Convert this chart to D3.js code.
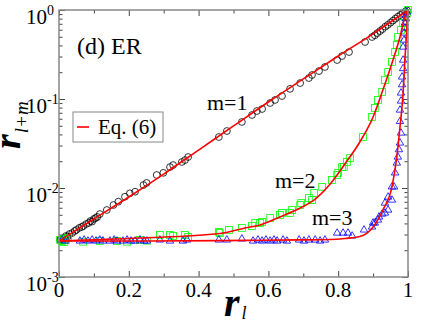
<!DOCTYPE html>
<html>
<head>
<meta charset="utf-8">
<script src="https://cdn.jsdelivr.net/npm/d3@7"></script>
<style>
  body { margin: 0; background: #fff; }
</style>
</head>
<body>
<div id="viz"></div>
<script>

const xMajor = [0, 0.2, 0.4, 0.6, 0.8, 1]
const xMajorLabels = ["0", "0.2", "0.4", "0.6", "0.8", "1"]
const xMinor = [0.1, 0.3, 0.5, 0.7, 0.9]
const yMajor = [0.001, 0.01, 0.1, 1]
const yMajorExp = ["-3", "-2", "-1", "0"]
const yMinor = [0.002, 0.003, 0.004, 0.005, 0.006, 0.007, 0.008, 0.009,
  0.02, 0.03, 0.04, 0.05, 0.06, 0.07, 0.08, 0.09,
  0.2, 0.3, 0.4, 0.5, 0.6, 0.7, 0.8, 0.9]

// Eq. (6) curves
const eqM1 = [[0, 0.00254], [0.1, 0.00449], [0.2, 0.00793], [0.3, 0.01435], [0.4, 0.0267],
  [0.5, 0.0498], [0.6, 0.0925], [0.7, 0.168], [0.8, 0.304], [0.9, 0.54], [1, 1]]
const eqM2 = [[0, 0.00254], [0.232, 0.00274], [0.461, 0.00308], [0.533, 0.00356], [0.576, 0.00384],
  [0.633, 0.00473], [0.691, 0.00596], [0.734, 0.00751], [0.777, 0.0111], [0.819, 0.0186],
  [0.862, 0.0329], [0.9, 0.0628], [0.928, 0.126], [0.957, 0.274], [0.977, 0.498], [0.991, 0.834], [1, 1]]
const eqM3 = [[0, 0.00254], [0.261, 0.00254], [0.547, 0.00258], [0.691, 0.00261], [0.777, 0.00264],
  [0.819, 0.00271], [0.862, 0.00285], [0.9, 0.00365], [0.928, 0.00566], [0.954, 0.0103],
  [0.968, 0.0223], [0.977, 0.0484], [0.986, 0.117], [0.991, 0.274], [0.997, 0.644], [1, 1]]

// simulation points
const simM1 = [[0.003, 0.00261], [0.006, 0.00265], [0.010, 0.00268], [0.015, 0.00274], [0.020, 0.00289],
  [0.025, 0.00285], [0.030, 0.00304], [0.038, 0.00312], [0.045, 0.00329], [0.050, 0.00338],
  [0.058, 0.00356], [0.065, 0.00365], [0.070, 0.00374], [0.078, 0.00394], [0.085, 0.00405],
  [0.090, 0.00426], [0.095, 0.00420], [0.100, 0.00449], [0.105, 0.00460], [0.110, 0.00473],
  [0.117, 0.00510], [0.137, 0.00566], [0.156, 0.00644], [0.170, 0.00702], [0.189, 0.00798],
  [0.203, 0.00871], [0.218, 0.00908], [0.242, 0.0108], [0.251, 0.0114], [0.280, 0.0140],
  [0.299, 0.0148], [0.318, 0.0172], [0.327, 0.0181], [0.352, 0.0196], [0.361, 0.0206],
  [0.370, 0.0223], [0.458, 0.0374], [0.481, 0.0437], [0.524, 0.0552], [0.553, 0.0661],
  [0.567, 0.0733], [0.582, 0.0772], [0.605, 0.0902], [0.619, 0.0975], [0.639, 0.108],
  [0.662, 0.130], [0.691, 0.151], [0.716, 0.172], [0.725, 0.186], [0.745, 0.206],
  [0.762, 0.229], [0.797, 0.274], [0.811, 0.304], [0.831, 0.337], [0.877, 0.437],
  [0.897, 0.497], [0.905, 0.52], [0.912, 0.55], [0.920, 0.58], [0.927, 0.61], [0.935, 0.65],
  [0.942, 0.68], [0.950, 0.72], [0.957, 0.76], [0.964, 0.80], [0.971, 0.84], [0.978, 0.88],
  [0.985, 0.92], [0.992, 0.96], [0.997, 0.99]]

const simM2 = [[0.003, 0.00261], [0.009, 0.00254], [0.011, 0.00268], [0.014, 0.00247], [0.020, 0.00261],
  [0.026, 0.00274], [0.069, 0.00249], [0.117, 0.00254], [0.166, 0.00254], [0.195, 0.00249],
  [0.232, 0.00261], [0.252, 0.00256], [0.289, 0.00297], [0.318, 0.00297], [0.327, 0.00289],
  [0.361, 0.00297], [0.370, 0.00282], [0.458, 0.00321], [0.461, 0.00312], [0.487, 0.00338],
  [0.524, 0.00356], [0.553, 0.00374], [0.562, 0.00405], [0.576, 0.00405], [0.582, 0.00415],
  [0.605, 0.00460], [0.633, 0.00498], [0.639, 0.00524], [0.662, 0.00524], [0.668, 0.00566],
  [0.691, 0.00644], [0.694, 0.00678], [0.716, 0.00773], [0.725, 0.00733], [0.731, 0.00879],
  [0.754, 0.0103], [0.782, 0.0123], [0.797, 0.0140], [0.800, 0.0148], [0.811, 0.0172],
  [0.816, 0.0172], [0.825, 0.0196], [0.834, 0.0217], [0.871, 0.0374], [0.897, 0.0628],
  [0.905, 0.0793], [0.914, 0.0975], [0.926, 0.120], [0.934, 0.163], [0.943, 0.201],
  [0.954, 0.261], [0.963, 0.337], [0.968, 0.405], [0.971, 0.497], [0.980, 0.596],
  [0.986, 0.714], [0.991, 0.834], [0.997, 0.925], [1.0, 1.0]]

const simM3 = [[0.009, 0.00261], [0.017, 0.00254], [0.060, 0.00254], [0.072, 0.00261], [0.083, 0.00254],
  [0.095, 0.00261], [0.106, 0.00254], [0.117, 0.00261], [0.126, 0.00254], [0.146, 0.00254],
  [0.158, 0.00261], [0.166, 0.00254], [0.183, 0.00254], [0.195, 0.00261], [0.206, 0.00254],
  [0.218, 0.00254], [0.232, 0.00261], [0.244, 0.00254], [0.252, 0.00254], [0.289, 0.00261],
  [0.318, 0.00254], [0.355, 0.00254], [0.367, 0.00261], [0.458, 0.00261], [0.481, 0.00261],
  [0.524, 0.00268], [0.556, 0.00254], [0.570, 0.00261], [0.582, 0.00254], [0.593, 0.00261],
  [0.605, 0.00254], [0.616, 0.00261], [0.625, 0.00254], [0.642, 0.00261], [0.653, 0.00254],
  [0.688, 0.00261], [0.702, 0.00254], [0.716, 0.00261], [0.734, 0.00261], [0.748, 0.00254],
  [0.762, 0.00261], [0.797, 0.00312], [0.814, 0.00312], [0.828, 0.00312], [0.840, 0.00289],
  [0.874, 0.00338], [0.897, 0.00365], [0.900, 0.00405], [0.905, 0.00405], [0.914, 0.00437],
  [0.917, 0.00473], [0.926, 0.00510], [0.934, 0.00524], [0.934, 0.00678], [0.943, 0.00566],
  [0.943, 0.00792], [0.954, 0.00733], [0.954, 0.0103], [0.960, 0.0103], [0.963, 0.0148],
  [0.968, 0.0191], [0.971, 0.0223], [0.974, 0.0270], [0.977, 0.0321], [0.980, 0.0415],
  [0.977, 0.0560], [0.977, 0.0752], [0.980, 0.0950], [0.980, 0.117], [0.983, 0.145],
  [0.983, 0.177], [0.986, 0.220], [0.986, 0.274], [0.986, 0.384], [0.989, 0.460],
  [0.989, 0.552], [0.991, 0.630], [0.991, 0.714], [0.994, 0.800], [0.994, 0.878],
  [0.997, 0.950]]

const width = 423
const height = 327
const margin = { left: 59, right: 15, top: 10, bottom: 50 }
const serif = "'Liberation Serif', 'Times New Roman', 'DejaVu Serif', serif"

const svg = d3.select("#viz").append("svg")
  .attr("width", width)
  .attr("height", height)
  .attr("font-family", serif)
  .style("font-family", serif)

const x = d3.scaleLinear().domain([0, 1]).range([margin.left, width - margin.right])
const y = d3.scaleLog().domain([0.001, 1]).range([height - margin.bottom, margin.top])

const x0 = x.range()[0], x1 = x.range()[1]
const y0 = y.range()[0], y1 = y.range()[1]

const tickColor = "#444"
const axisGroup = svg.append("g")

function addAxis(axis, transform, values, len) {
  const g = axisGroup.append("g")
    .attr("transform", transform)
    .call(axis.tickValues(values).tickSizeInner(-len).tickSizeOuter(0).tickFormat(""))
  g.select(".domain").remove()
  g.selectAll("line").attr("stroke", tickColor)
  return g
}

// ticks, pointing inward on all four sides
addAxis(d3.axisBottom(x), `translate(0,${y0})`, xMajor, 6)
addAxis(d3.axisBottom(x), `translate(0,${y0})`, xMinor, 3.5)
addAxis(d3.axisTop(x), `translate(0,${y1})`, xMajor, 6)
addAxis(d3.axisTop(x), `translate(0,${y1})`, xMinor, 3.5)
addAxis(d3.axisLeft(y), `translate(${x0},0)`, yMajor, 6)
addAxis(d3.axisLeft(y), `translate(${x0},0)`, yMinor, 3.5)
addAxis(d3.axisRight(y), `translate(${x1},0)`, yMajor, 6)
addAxis(d3.axisRight(y), `translate(${x1},0)`, yMinor, 3.5)

// x tick labels
svg.append("g").selectAll("text")
  .data(xMajor)
  .enter()
  .append("text")
  .attr("x", d => x(d))
  .attr("y", y0 + 20)
  .attr("text-anchor", "middle")
  .attr("font-family", serif)
  .attr("font-size", 21)
  .text((d, i) => xMajorLabels[i])

// y tick labels as 10 with superscript
const yLab = svg.append("g").selectAll("text")
  .data(yMajor)
  .enter()
  .append("text")
  .attr("x", 26)
  .attr("y", d => y(d) + 14)
  .attr("font-family", serif)
  .attr("font-size", 21)
yLab.append("tspan").text("10")
yLab.append("tspan")
  .attr("dy", -9)
  .attr("font-size", 14)
  .text((d, i) => yMajorExp[i])

// markers
const plot = svg.append("g")

plot.selectAll("circle")
  .data(simM1)
  .enter()
  .append("circle")
  .attr("cx", d => x(d[0]))
  .attr("cy", d => y(d[1]))
  .attr("r", 3.4)
  .attr("fill", "none")
  .attr("stroke", "#000")
  .attr("stroke-width", 0.8)

plot.selectAll("rect.sq")
  .data(simM2)
  .enter()
  .append("rect")
  .attr("class", "sq")
  .attr("x", d => x(d[0]) - 3.4)
  .attr("y", d => y(d[1]) - 3.4)
  .attr("width", 6.8)
  .attr("height", 6.8)
  .attr("fill", "none")
  .attr("stroke", "#00ff00")
  .attr("stroke-width", 0.8)

const tri = d3.symbol().type(d3.symbolTriangle).size(24)
plot.selectAll("path.tri")
  .data(simM3)
  .enter()
  .append("path")
  .attr("class", "tri")
  .attr("transform", d => `translate(${x(d[0])},${y(d[1])})`)
  .attr("d", tri)
  .attr("fill", "none")
  .attr("stroke", "#0000ff")
  .attr("stroke-width", 0.8)

// Eq. (6) lines
const line = d3.line()
  .x(d => x(d[0]))
  .y(d => y(d[1]))
  .curve(d3.curveMonotoneX)

plot.selectAll("path.eq")
  .data([eqM1, eqM2, eqM3])
  .enter()
  .append("path")
  .attr("class", "eq")
  .attr("d", line)
  .attr("fill", "none")
  .attr("stroke", "#ff0000")
  .attr("stroke-width", 1.6)

// frame
svg.append("rect")
  .attr("x", x0)
  .attr("y", y1)
  .attr("width", x1 - x0)
  .attr("height", y0 - y1)
  .attr("fill", "none")
  .attr("stroke", "#888")
  .attr("stroke-width", 1.5)

// annotations
function note(tx, ty, size, str) {
  svg.append("text").attr("x", tx).attr("y", ty)
    .attr("font-family", serif).attr("font-size", size).text(str)
}
note(77, 54, 24, "(d) ER")
note(207, 110, 22, "m=1")
note(275, 188, 22, "m=2")
note(312, 225, 22, "m=3")

// legend
const legend = svg.append("g")
legend.append("rect")
  .attr("x", 73).attr("y", 112).attr("width", 90).attr("height", 30)
  .attr("fill", "#fff").attr("stroke", "#888").attr("stroke-width", 1)
legend.append("line")
  .attr("x1", 77).attr("x2", 89).attr("y1", 127).attr("y2", 127)
  .attr("stroke", "#ff0000").attr("stroke-width", 1.6)
legend.append("text").attr("x", 98).attr("y", 134)
  .attr("font-family", serif).attr("font-size", 21).text("Eq. (6)")

// axis titles
const xt = svg.append("text")
  .attr("x", 224)
  .attr("y", 316)
  .attr("font-family", serif)
  .attr("font-size", 40)
  .attr("font-weight", "bold")
  .attr("font-style", "italic")
xt.append("tspan").text("r")
xt.append("tspan")
  .attr("dy", 3)
  .attr("dx", 2)
  .attr("font-size", 18)
  .attr("font-weight", "normal")
  .text("l")

const yt = svg.append("text")
  .attr("transform", "translate(20,149) rotate(-90)")
  .attr("font-family", serif)
  .attr("font-size", 38)
  .attr("font-weight", "bold")
  .attr("font-style", "italic")
yt.append("tspan").text("r")
yt.append("tspan")
  .attr("dy", 8)
  .attr("dx", 1)
  .attr("font-size", 19)
  .attr("font-weight", "normal")
  .text("l+m")

</script>
</body>
</html>
